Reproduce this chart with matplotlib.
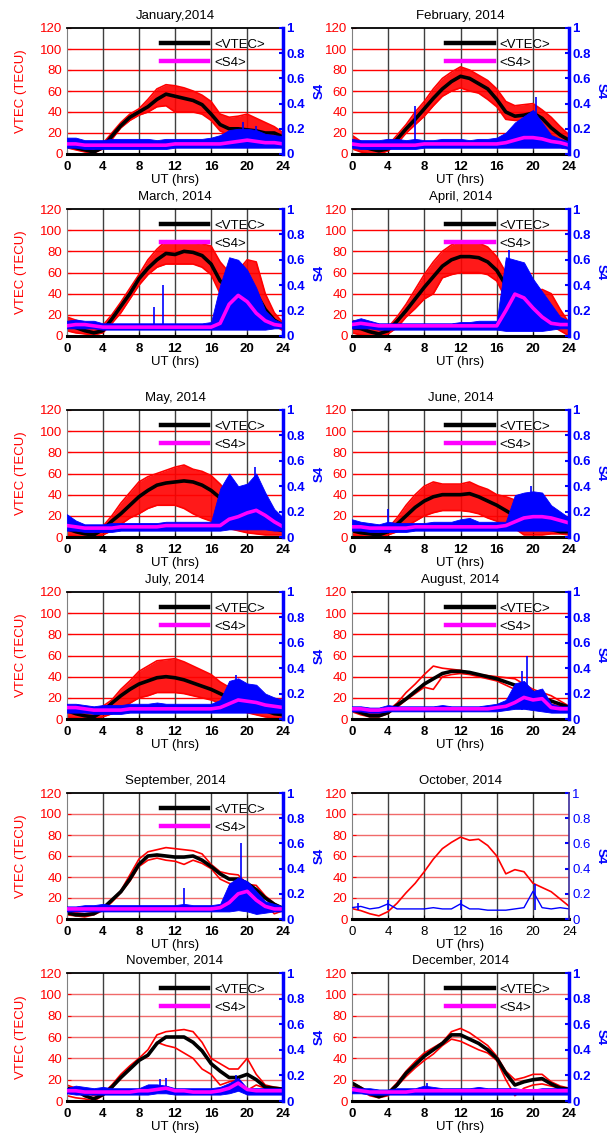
import matplotlib.pyplot as plt
from matplotlib.lines import Line2D

plt.rcParams['font.family'] = ['Liberation Sans', 'DejaVu Sans']

months = ['January,2014', 'February, 2014', 'March, 2014', 'April, 2014',
          'May, 2014', 'June, 2014', 'July, 2014', 'August, 2014',
          'September, 2014', 'October, 2014', 'November, 2014', 'December, 2014']

hours = list(range(25))

# mean VTEC of the month (TECU), hourly; for October this is the single day shown
vtec_mean = [
    [8, 6, 4, 2, 6, 17, 27, 35, 40, 45, 52, 57, 55, 53, 51, 47, 38, 28, 24, 24, 23, 22, 20, 20, 16],
    [12, 8, 5, 3, 5, 14, 24, 33, 43, 53, 62, 69, 74, 72, 67, 62, 52, 40, 36, 37, 39, 34, 25, 18, 13],
    [10, 8, 5, 3, 5, 16, 28, 40, 54, 64, 72, 78, 77, 80, 79, 76, 68, 52, 45, 42, 45, 40, 25, 15, 10],
    [8, 7, 4, 2, 5, 14, 24, 35, 46, 56, 66, 72, 75, 75, 74, 70, 62, 48, 35, 28, 22, 20, 18, 12, 8],
    [8, 5, 3, 2, 7, 15, 22, 30, 38, 44, 49, 51, 52, 53, 52, 49, 44, 37, 32, 25, 18, 14, 10, 8, 6],
    [6, 4, 3, 2, 5, 12, 20, 28, 34, 38, 40, 40, 40, 41, 38, 34, 30, 25, 20, 16, 12, 9, 7, 5, 5],
    [8, 5, 3, 2, 7, 15, 22, 28, 33, 36, 39, 40, 39, 37, 34, 31, 28, 24, 20, 15, 12, 10, 8, 5, 4],
    [9, 6, 3, 3, 6, 13, 19, 26, 33, 38, 43, 45, 45, 44, 42, 40, 38, 35, 32, 30, 25, 20, 17, 14, 11],
    [6, 4, 4, 5, 10, 18, 26, 38, 52, 60, 61, 60, 59, 59, 60, 56, 50, 43, 38, 38, 34, 28, 20, 14, 10],
    [10, 8, 5, 3, 7, 15, 25, 34, 45, 57, 67, 73, 78, 75, 76, 70, 60, 43, 47, 45, 34, 30, 26, 19, 12],
    [12, 10, 5, 2, 6, 13, 22, 30, 38, 43, 54, 60, 60, 60, 55, 47, 35, 28, 22, 22, 25, 20, 13, 12, 11],
    [17, 12, 7, 4, 7, 15, 26, 34, 42, 48, 54, 62, 62, 58, 54, 48, 40, 26, 15, 18, 20, 21, 16, 12, 11],
]

# upper / lower envelope of the daily VTEC curves
vtec_hi = [
    [12, 10, 7, 5, 10, 20, 30, 38, 43, 52, 62, 66, 65, 63, 60, 56, 50, 38, 35, 36, 38, 34, 30, 26, 20],
    [18, 12, 8, 6, 8, 18, 28, 40, 50, 62, 72, 78, 83, 80, 75, 70, 62, 50, 46, 47, 48, 42, 35, 26, 18],
    [18, 15, 12, 10, 10, 20, 32, 45, 58, 72, 82, 90, 88, 88, 88, 87, 85, 70, 60, 62, 72, 70, 40, 22, 12],
    [15, 12, 8, 6, 8, 18, 30, 44, 58, 70, 80, 86, 90, 88, 88, 84, 75, 60, 50, 42, 40, 44, 40, 25, 12],
    [18, 12, 8, 6, 10, 20, 32, 42, 52, 57, 60, 63, 66, 68, 64, 62, 58, 50, 40, 35, 30, 25, 20, 17, 15],
    [10, 8, 5, 5, 8, 18, 30, 40, 48, 52, 50, 50, 50, 52, 48, 45, 40, 38, 35, 30, 25, 22, 18, 14, 10],
    [10, 12, 8, 6, 12, 18, 28, 36, 45, 50, 55, 56, 57, 54, 50, 46, 42, 35, 30, 28, 25, 22, 18, 15, 12],
    [10, 7, 5, 5, 8, 15, 25, 33, 42, 50, 48, 47, 46, 44, 42, 41, 40, 39, 38, 33, 28, 25, 22, 17, 12],
    [8, 6, 5, 6, 10, 18, 27, 42, 57, 64, 66, 68, 67, 66, 65, 62, 52, 45, 43, 42, 33, 32, 22, 15, 10],
    [10, 8, 5, 3, 7, 15, 25, 34, 45, 57, 67, 73, 78, 75, 76, 70, 60, 43, 47, 45, 34, 30, 26, 19, 12],
    [15, 12, 8, 5, 7, 15, 25, 33, 40, 48, 62, 65, 66, 67, 65, 55, 40, 35, 30, 30, 40, 25, 15, 13, 12],
    [17, 13, 8, 6, 8, 17, 28, 37, 45, 50, 55, 65, 68, 64, 58, 52, 42, 28, 20, 22, 25, 25, 18, 14, 12],
]
vtec_lo = [
    [6, 4, 2, 1, 5, 14, 25, 32, 37, 40, 45, 46, 40, 40, 40, 38, 32, 22, 18, 18, 17, 16, 15, 14, 13],
    [5, 2, 0, 0, 3, 10, 20, 28, 36, 46, 55, 60, 63, 60, 58, 52, 45, 33, 32, 32, 33, 28, 18, 13, 10],
    [5, 3, 2, 1, 3, 12, 22, 35, 48, 58, 65, 68, 68, 68, 68, 65, 58, 40, 30, 30, 35, 25, 15, 10, 5],
    [3, 1, 0, 0, 2, 8, 18, 26, 35, 40, 55, 58, 60, 60, 60, 58, 52, 35, 25, 18, 15, 12, 10, 5, 0],
    [2, 1, 0, 0, 2, 6, 12, 18, 22, 27, 30, 30, 30, 27, 22, 18, 15, 10, 8, 6, 4, 3, 2, 2, 2],
    [2, 1, 0, 0, 2, 5, 10, 15, 20, 23, 25, 25, 25, 24, 22, 18, 15, 10, 8, 2, 2, 2, 3, 3, 2],
    [2, 1, 0, 0, 2, 5, 10, 15, 20, 22, 25, 25, 25, 24, 22, 20, 18, 15, 12, 9, 6, 4, 2, 1, 0],
    [7, 4, 2, 2, 5, 11, 18, 24, 30, 28, 40, 42, 43, 42, 40, 38, 36, 32, 28, 25, 20, 17, 14, 12, 10],
    [4, 3, 2, 4, 8, 16, 25, 36, 50, 56, 58, 56, 55, 52, 56, 53, 48, 38, 34, 32, 25, 18, 15, 5, 8],
    [10, 8, 5, 3, 7, 15, 25, 34, 45, 57, 67, 73, 78, 75, 76, 70, 60, 43, 47, 45, 34, 30, 26, 19, 12],
    [5, 3, 2, 0, 5, 12, 22, 30, 38, 42, 55, 52, 50, 45, 40, 30, 25, 15, 18, 20, 10, 15, 12, 11, 10],
    [14, 10, 5, 3, 5, 14, 23, 31, 38, 44, 52, 58, 56, 52, 48, 45, 38, 20, 5, 12, 15, 16, 14, 12, 10],
]

# mean S4, hourly; for October the single day shown
s4_mean = [
    [.08, .08, .07, .07, .07, .07, .07, .07, .07, .07, .07, .07, .08, .08, .08, .08, .08, .08, .09, .10, .11, .10, .09, .09, .08],
    [.08, .07, .07, .07, .07, .07, .07, .07, .08, .08, .08, .08, .08, .08, .08, .08, .08, .09, .11, .13, .13, .12, .10, .09, .07],
    [.08, .09, .09, .08, .07, .07, .07, .07, .07, .07, .07, .07, .07, .07, .07, .07, .07, .10, .25, .32, .27, .18, .12, .09, .08],
    [.09, .10, .09, .08, .08, .08, .08, .08, .08, .08, .08, .08, .08, .08, .08, .08, .08, .20, .33, .30, .22, .15, .10, .09, .09],
    [.09, .08, .07, .07, .07, .07, .08, .08, .08, .08, .08, .09, .09, .09, .09, .09, .09, .09, .14, .16, .19, .21, .17, .12, .08],
    [.08, .08, .07, .07, .07, .07, .07, .08, .08, .08, .08, .08, .08, .08, .08, .08, .08, .09, .12, .15, .16, .16, .15, .13, .11],
    [.09, .09, .08, .07, .07, .07, .07, .08, .08, .08, .08, .08, .08, .08, .08, .08, .08, .09, .12, .15, .14, .13, .11, .10, .09],
    [.08, .08, .07, .07, .08, .08, .08, .08, .08, .08, .08, .08, .08, .08, .08, .08, .09, .10, .13, .17, .15, .16, .09, .08, .08],
    [.08, .08, .08, .08, .08, .08, .08, .08, .08, .08, .08, .08, .08, .08, .08, .08, .08, .09, .13, .20, .22, .15, .10, .08, .08],
    [.09, .10, .08, .09, .12, .08, .08, .08, .08, .09, .08, .08, .12, .08, .08, .07, .07, .07, .08, .09, .22, .09, .08, .09, .08],
    [.08, .08, .07, .07, .07, .07, .07, .07, .08, .08, .09, .10, .08, .08, .07, .07, .07, .08, .10, .14, .09, .08, .08, .08, .08],
    [.09, .08, .07, .07, .07, .07, .07, .08, .08, .08, .08, .08, .08, .08, .08, .08, .08, .08, .08, .08, .08, .08, .08, .08, .08],
]

# upper / lower envelope of the daily S4 curves
s4_hi = [
    [.13, .13, .11, .11, .11, .12, .12, .12, .12, .12, .11, .12, .12, .12, .12, .12, .13, .15, .19, .20, .20, .19, .16, .15, .14],
    [.12, .11, .11, .11, .12, .12, .11, .12, .11, .11, .12, .12, .12, .11, .12, .12, .13, .17, .25, .30, .35, .25, .15, .12, .10],
    [.12, .13, .12, .12, .10, .10, .10, .10, .10, .10, .10, .10, .10, .10, .10, .10, .11, .40, .62, .60, .52, .38, .20, .13, .10],
    [.12, .14, .12, .10, .10, .10, .10, .10, .10, .10, .10, .10, .11, .11, .12, .12, .12, .62, .60, .58, .45, .35, .25, .15, .12],
    [.18, .13, .10, .10, .10, .11, .11, .11, .11, .11, .11, .12, .12, .12, .12, .12, .12, .38, .50, .40, .42, .50, .35, .22, .15],
    [.14, .12, .11, .10, .12, .11, .11, .11, .11, .12, .12, .12, .14, .15, .12, .12, .12, .12, .33, .35, .36, .35, .25, .20, .15],
    [.12, .12, .11, .10, .11, .11, .11, .12, .12, .12, .13, .12, .12, .12, .12, .12, .12, .15, .30, .32, .28, .27, .20, .17, .15],
    [.10, .10, .09, .09, .11, .10, .10, .10, .10, .10, .11, .10, .10, .10, .10, .11, .12, .15, .28, .30, .22, .24, .12, .10, .10],
    [.10, .10, .11, .11, .12, .11, .11, .11, .11, .11, .11, .11, .11, .12, .11, .11, .11, .12, .28, .33, .30, .22, .14, .12, .10],
    [.09, .10, .08, .09, .12, .08, .08, .08, .08, .09, .08, .08, .12, .08, .08, .07, .07, .07, .08, .09, .22, .09, .08, .09, .08],
    [.10, .12, .11, .10, .11, .10, .10, .10, .10, .13, .13, .12, .10, .10, .10, .10, .10, .11, .14, .18, .10, .10, .10, .10, .10],
    [.11, .10, .10, .09, .09, .10, .10, .10, .12, .11, .10, .10, .10, .10, .11, .10, .10, .10, .10, .09, .09, .10, .10, .10, .10],
]
s4_lo = [
    [.05, .05, .04, .04, .04, .04, .04, .04, .04, .04, .04, .04, .05, .05, .05, .05, .05, .05, .05, .05, .05, .05, .05, .05, .05],
    [.05, .04, .04, .04, .04, .04, .04, .04, .05, .05, .05, .05, .05, .05, .05, .05, .05, .05, .05, .05, .05, .05, .05, .05, .04],
    [.06, .06, .06, .06, .05, .05, .05, .05, .05, .05, .05, .05, .05, .05, .05, .05, .05, .05, .05, .05, .05, .05, .05, .06, .06],
    [.06, .06, .06, .05, .05, .05, .05, .05, .05, .05, .05, .05, .05, .05, .05, .05, .05, .04, .04, .04, .04, .04, .05, .06, .06],
    [.05, .05, .04, .04, .04, .04, .05, .05, .05, .05, .05, .05, .05, .05, .05, .05, .05, .05, .06, .06, .06, .06, .06, .05, .05],
    [.05, .05, .04, .04, .04, .04, .04, .05, .05, .05, .05, .05, .05, .05, .05, .05, .05, .05, .05, .05, .05, .05, .05, .05, .05],
    [.05, .05, .05, .04, .04, .04, .04, .05, .05, .05, .05, .05, .05, .05, .05, .05, .05, .05, .05, .05, .05, .05, .05, .05, .05],
    [.06, .06, .05, .05, .06, .06, .06, .06, .06, .06, .06, .06, .06, .06, .06, .06, .06, .07, .08, .08, .07, .06, .05, .05, .05],
    [.06, .06, .06, .06, .06, .06, .06, .06, .06, .06, .06, .06, .06, .06, .06, .06, .06, .06, .06, .07, .06, .04, .05, .06, .06],
    [.09, .10, .08, .09, .12, .08, .08, .08, .08, .09, .08, .08, .12, .08, .08, .07, .07, .07, .08, .09, .22, .09, .08, .09, .08],
    [.06, .05, .05, .05, .05, .05, .05, .05, .05, .05, .06, .06, .05, .05, .05, .05, .05, .05, .06, .08, .05, .05, .05, .05, .05],
    [.06, .06, .05, .05, .05, .05, .05, .05, .05, .05, .05, .05, .05, .05, .05, .05, .05, .05, .05, .05, .05, .05, .05, .05, .05],
]

# isolated S4 spikes (UT hour, S4 peak)
s4_spikes = [
    [(19.5, .25), (21.0, .22)],
    [(7.0, .38), (20.3, .45)],
    [(9.7, .23), (10.7, .40)],
    [(17.3, .68)],
    [(20.9, .55)],
    [(4.0, .22), (19.8, .40)],
    [(18.8, .35)],
    [(18.8, .38), (19.3, .50)],
    [(13.0, .25), (19.3, .60)],
    [(0.7, .13), (4.0, .15), (12.0, .15), (20.2, .28)],
    [(10.3, .17), (11.0, .18), (18.8, .20)],
    [(8.3, .14)],
]

# drawing style per panel
dense = [True, True, True, True, True, True, True, False, False, False, False, False]
single_day = [False] * 9 + [True] + [False] * 2

W, H = 607, 1133
rows_px = [(28, 154), (209, 336), (410, 537), (592, 719), (793, 919), (973, 1101)]
cols_px = [(66.7, 283.3), (351.7, 569.3)]
fs = 9.5

fig = plt.figure(figsize=(W / 100, H / 100), dpi=100)

for i, name in enumerate(months):
    r, c = divmod(i, 2)
    top, bot = rows_px[r]
    x0, x1 = cols_px[c]
    ax = fig.add_axes([x0 / W, 1 - bot / H, (x1 - x0) / W, (bot - top) / H])
    ax2 = ax.twinx()

    grid_red = 'red' if r < 4 else '#f06a6a'
    for y in [20, 40, 60, 80, 100]:
        ax.axhline(y, color=grid_red, lw=1, zorder=0)
    for x in [4, 8, 12, 16, 20]:
        ax.axvline(x, color='#404040', lw=1, zorder=0)

    if single_day[i]:
        ax.plot(hours, vtec_mean[i], color='red', lw=1.2)
        ax2.plot(hours, s4_mean[i], color='blue', lw=1)
    else:
        if dense[i]:
            ax.fill_between(hours, vtec_lo[i], vtec_hi[i], color='red', lw=0, alpha=0.9)
        ax.plot(hours, vtec_hi[i], color='red', lw=1.2)
        ax.plot(hours, vtec_lo[i], color='red', lw=1.2)
        ax.plot(hours, vtec_mean[i], color='black', lw=2.6)
        ax2.fill_between(hours, s4_lo[i], s4_hi[i], color='blue', lw=0.6)
    for t, v in s4_spikes[i]:
        ax2.vlines(t, 0.07, v, color='blue', lw=1.2)
    if not single_day[i]:
        ax2.plot(hours, s4_mean[i], color='magenta', lw=2.6)
        handles = [Line2D([], [], color='black', lw=3.2),
                   Line2D([], [], color='magenta', lw=3.2)]
        ax2.legend(handles, ['<VTEC>', '<S4>'], loc='upper left',
                   bbox_to_anchor=(0.435, 0.915), frameon=False, fontsize=fs,
                   handlelength=3.6, handletextpad=0.45, borderpad=0,
                   borderaxespad=0, labelspacing=0.42)

    ax.set_xlim(0, 24)
    ax.set_ylim(0, 120)
    ax2.set_ylim(0, 1)
    ax.set_xticks([0, 4, 8, 12, 16, 20, 24])
    ax.set_yticks([0, 20, 40, 60, 80, 100, 120])
    ax2.set_yticks([0, 0.2, 0.4, 0.6, 0.8, 1])
    ax2.set_yticklabels(['0', '0.2', '0.4', '0.6', '0.8', '1'])

    wt = 'normal' if single_day[i] else 'bold'
    ax.tick_params(axis='x', direction='in', length=3, pad=5, labelsize=fs, colors='black')
    for lab in ax.get_xticklabels():
        lab.set_fontweight(wt)
    ax.tick_params(axis='y', direction='in', length=3, pad=3, labelsize=fs,
                   colors='red')
    ax2.tick_params(axis='y', direction='in', length=3, width=1.5, pad=2,
                    labelsize=fs, colors='blue')
    for lab in ax2.get_yticklabels():
        lab.set_fontweight(wt)

    ax.spines['top'].set_linewidth(1.3)
    ax.spines['bottom'].set_linewidth(2.2)
    ax.spines['left'].set_color('#808080')
    ax.spines['right'].set_visible(False)
    for s in ['top', 'bottom', 'left']:
        ax2.spines[s].set_visible(False)
    if single_day[i]:
        ax2.spines['right'].set_color('#3a2a9a')
        ax2.spines['right'].set_linewidth(1.2)
    else:
        ax2.spines['right'].set_color('blue')
        ax2.spines['right'].set_linewidth(2.5)

    ax.set_title(name, fontsize=fs, pad=6.5)
    ax.set_xlabel('UT (hrs)', fontsize=fs, labelpad=1)
    if c == 0:
        ax.set_ylabel('VTEC (TECU)', color='red', fontsize=fs)
        ax.yaxis.set_label_coords(-0.21, 0.5)
        ax.yaxis.label.set_va('center')
        ax2.set_ylabel('S4', color='blue', fontsize=fs, fontweight='bold', rotation=90)
        ax2.yaxis.set_label_coords(1.17, 0.5)
    else:
        ax2.set_ylabel('S4', color='blue', fontsize=fs, fontweight='bold', rotation=270)
        ax2.yaxis.set_label_coords(1.142, 0.5)
    ax2.yaxis.label.set_va('center')
    ax2.yaxis.label.set_ha('center')

fig.savefig('out.png', dpi=100)
